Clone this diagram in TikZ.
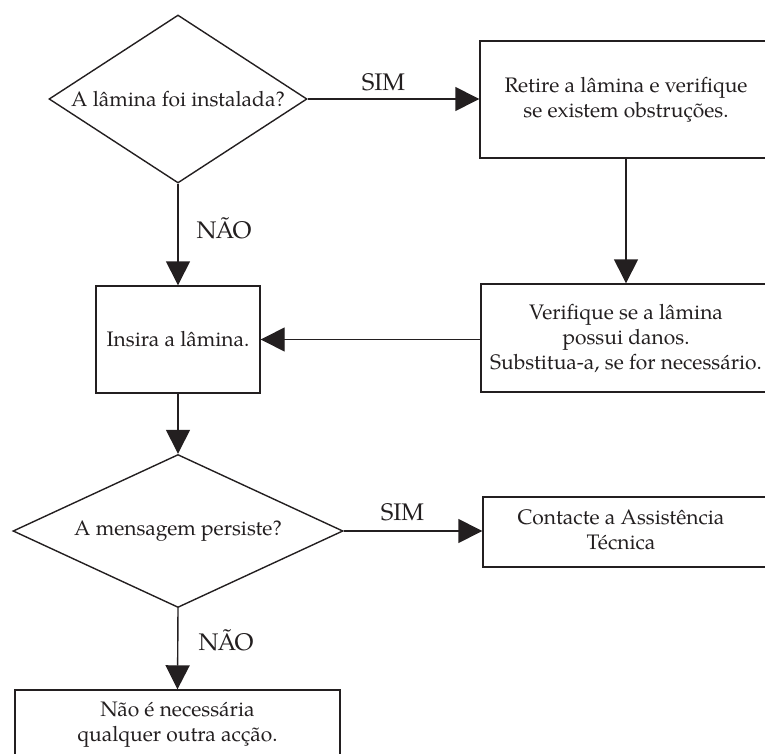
\documentclass[tikz,border=0pt]{standalone}
\usepackage{fontspec}
\setmainfont{TeX Gyre Pagella}
\usetikzlibrary{shapes.geometric,arrows.meta,calc}
\definecolor{ink}{HTML}{231F20}
\begin{document}
\begin{tikzpicture}[x=1pt,y=-1pt,
  every node/.style={font=\fontsize{21}{25}\selectfont, text=ink},
  box/.style={draw=ink, line width=1.4pt, rectangle, inner sep=0pt, align=center},
  dec/.style={draw=ink, line width=1.4pt, diamond, inner sep=0pt, align=center},
  arr/.style={draw=ink, line width=1.4pt, -{Triangle[length=24pt,width=24pt]}},
  lbl/.style={inner sep=0pt},
  flag/.style={inner sep=0pt, font=\fontsize{24}{28}\selectfont}]
\useasboundingbox (0,0) rectangle (765,754);
% decisions
\node[dec, minimum width=258pt, minimum height=168pt, aspect=1.5] (d1) at (178,99) {A lâmina foi instalada?};
\node[dec, minimum width=330pt, minimum height=153pt, aspect=2.16] (d2) at (178,531) {A mensagem persiste?};
% boxes
\node[box, minimum width=292pt, minimum height=117pt] (b1) at (626,99.5) {Retire a lâmina e verifique\\se existem obstruções.};
\node[box, minimum width=290pt, minimum height=108pt] (b2) at (626,338) {Verifique se a lâmina\\possui danos.\\Substitua-a, se for necessário.};
\node[box, minimum width=164pt, minimum height=107pt] (ins) at (178,339.5) {Insira a lâmina.};
\node[box, minimum width=292pt, minimum height=70pt] (b3) at (629,532) {};
\node[lbl, align=center] (t3) at (621,530) {Contacte a Assistência\\Técnica};
\node[box, minimum width=325pt, minimum height=70pt] (b4) at (177.5,725) {Não é necessária\\qualquer outra acção.};
% connectors
\draw[arr] (d1.east) -- (d1.east -| b1.west);
\draw[arr] (b1.south) -- (b2.north);
\draw[arr] (b2.west |- ins.east) -- (ins.east);
\draw[arr] (d1.south) -- (ins.north);
\draw[arr] (ins.south) -- (d2.north);
\draw[arr] (d2.east) -- (d2.east -| b3.west);
\draw[arr] (d2.south) -- (b4.north);
% labels
\node[flag] (sim1) at (383.5,82.5) {SIM};
\node[flag] (nao1) at (224,228) {NÃO};
\node[flag] (sim2) at (402.5,512) {SIM};
\node[flag] (nao2) at (226,640) {NÃO};
\end{tikzpicture}
\end{document}
